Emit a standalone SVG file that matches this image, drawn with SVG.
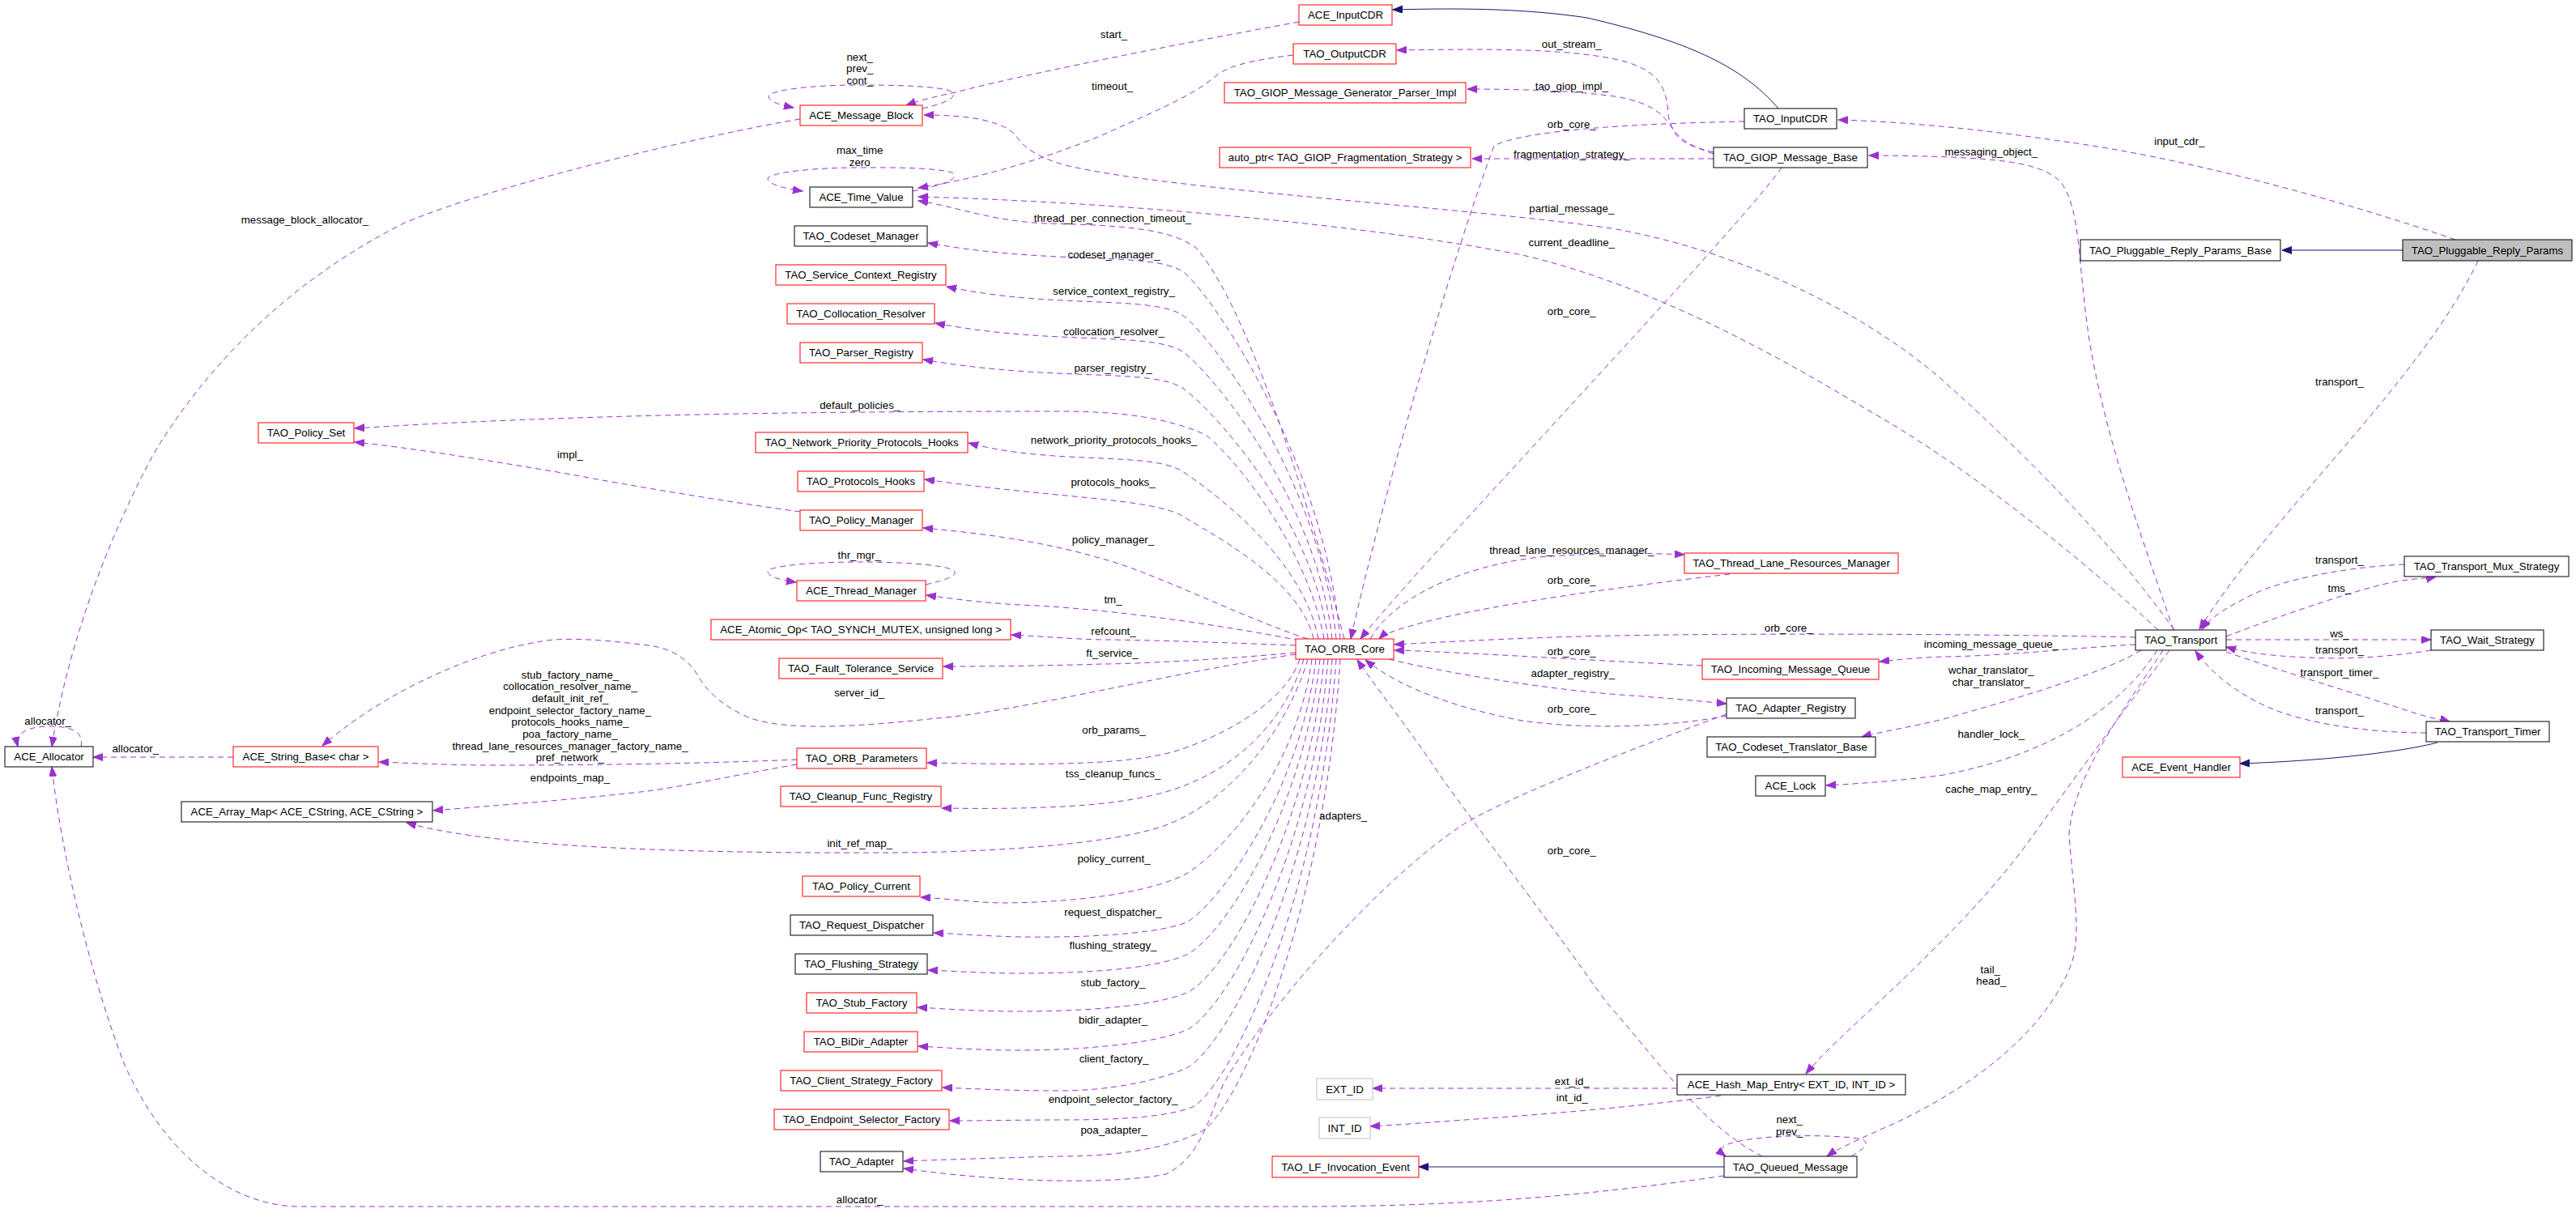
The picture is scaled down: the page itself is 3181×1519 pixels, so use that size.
<svg xmlns="http://www.w3.org/2000/svg" width="3181" height="1519" viewBox="0 0 3181 1519">
<style>
rect{fill:#fff;stroke-width:1}
.r rect{stroke:#ff0000}
.b rect{stroke:#000}
.g rect{stroke:#bfbfbf}
.s rect{fill:#bfbfbf;stroke:#000}
text{font-family:"Liberation Sans",Arial,sans-serif;font-size:13.3px;fill:#000;text-anchor:middle}
.e{fill:none;stroke:#9a32cd;stroke-width:1;stroke-dasharray:7,5;marker-end:url(#ap)}
.i{fill:none;stroke:#191970;stroke-width:1;marker-end:url(#an)}
</style>
<defs>
<marker id="ap" markerUnits="userSpaceOnUse" markerWidth="14" markerHeight="11" refX="12" refY="4.5" orient="auto"><path d="M0,0 L12,4.5 L0,9 z" fill="#9a32cd" stroke="#9a32cd" stroke-dasharray="none"/></marker>
<marker id="an" markerUnits="userSpaceOnUse" markerWidth="14" markerHeight="11" refX="12" refY="4.5" orient="auto"><path d="M0,0 L12,4.5 L0,9 z" fill="#191970" stroke="#191970"/></marker>
</defs>
<rect x="0" y="0" width="3181" height="1519" style="fill:#fff;stroke:none"/>
<g id="edges">
<path class="e" d="M 988,147 C 880,165 620,225 500,275 C 350,350 250,460 190,560 C 120,690 80,820 64,922"/>
<text x="376.5" y="276">message_block_allocator_</text>
<path class="e" d="M 100,922 C 104,905 90,897 62,897 C 35,897 18,905 22,922"/>
<text x="59.2" y="895">allocator_</text>
<path class="e" d="M 288,935 L 115,935"/>
<text x="167.3" y="929">allocator_</text>
<path class="e" d="M 2129,1452 C 1950,1478 1800,1490 1600,1490 L 367,1490 C 280,1488 200,1420 153,1313 C 110,1200 75,1050 64,947"/>
<text x="1061.7" y="1486">allocator_</text>
<path class="e" d="M 1139,134 C 1165,128 1185,120 1175,113 C 1160,106 1100,105 1060,105 C 1010,105 960,110 950,117 C 945,125 965,130 980,133"/>
<text x="1061.7" y="74.5">next_</text>
<text x="1061.7" y="88.5">prev_</text>
<text x="1061.7" y="103.5">cont_</text>
<path class="e" d="M 1604,27 C 1450,55 1250,95 1180,114 C 1150,120 1130,126 1119,130"/>
<text x="1375.5" y="47">start_</text>
<path class="e" d="M 1597,68 C 1540,75 1515,82 1500,95 C 1470,120 1420,140 1361,167 C 1280,200 1200,222 1134,232"/>
<text x="1373.5" y="111">timeout_</text>
<path class="e" d="M 1127,236 C 1160,230 1190,220 1175,213 C 1150,206 1090,207 1060,207 C 1010,207 955,212 948,220 C 948,228 970,233 991,236"/>
<text x="1061.7" y="190">max_time</text>
<text x="1061.7" y="204.5">zero</text>
<path class="e" d="M 1660,789 C 1610,600 1540,380 1478,307 C 1450,285 1400,278 1290,276 C 1220,272 1180,255 1134,248"/>
<text x="1374" y="274">thread_per_connection_timeout_</text>
<path class="e" d="M 2665,778 C 2560,680 2420,570 2304,505 C 2180,430 2030,350 1880,315 C 1700,280 1400,250 1134,243"/>
<text x="1940.8" y="304">current_deadline_</text>
<path class="e" d="M 2685,778 C 2600,660 2500,560 2396,467 C 2300,385 2150,310 1990,282 C 1800,255 1450,235 1320,205 C 1280,195 1262,180 1255,168 C 1240,150 1200,142 1141,142"/>
<text x="1940.8" y="262">partial_message_</text>
<path class="i" d="M 2196,134 C 2150,80 2080,50 1960,22 C 1880,10 1800,10 1720,12"/>
<path class="e" d="M 2116,190 C 2080,178 2062,165 2060,140 C 2058,110 2050,90 2010,77 C 1950,60 1850,60 1725,62"/>
<text x="1940.8" y="59">out_stream_</text>
<path class="e" d="M 2116,188 C 2090,182 2075,175 2069,165 C 2055,140 2040,128 2000,120 C 1950,112 1880,110 1812,110"/>
<text x="1940.8" y="110.5">tao_giop_impl_</text>
<path class="e" d="M 2154,150 C 2000,153 1880,162 1845,180 C 1800,300 1710,600 1668,789"/>
<text x="1940.8" y="158">orb_core_</text>
<path class="e" d="M 2116,196 L 1818,196"/>
<text x="1940.8" y="194.5">fragmentation_strategy_</text>
<path class="e" d="M 3032,296 C 2900,250 2700,195 2550,175 C 2450,160 2350,150 2270,148"/>
<text x="2691.3" y="179">input_cdr_</text>
<path class="e" d="M 2684,778 C 2640,650 2600,540 2580,420 C 2565,320 2570,260 2545,225 C 2520,200 2470,193 2308,192"/>
<text x="2458.8" y="191.5">messaging_object_</text>
<path class="i" d="M 2967,309 L 2818,309"/>
<path class="e" d="M 3060,322 C 2990,470 2800,640 2716,777"/>
<text x="2889" y="476">transport_</text>
<path class="e" d="M 2200,207 C 2150,280 1750,700 1680,789"/>
<text x="1940.8" y="388.5">orb_core_</text>
<path class="e" d="M 1655,789 C 1635,562 1490,355 1460,335 C 1420,310 1300,328 1146,300"/>
<text x="1375.5" y="319">codeset_manager_</text>
<path class="e" d="M 1650,789 C 1630,589 1490,409 1460,389 C 1420,364 1300,382 1169,354"/>
<text x="1375.5" y="364">service_context_registry_</text>
<path class="e" d="M 1645,789 C 1625,611 1490,454 1460,434 C 1420,409 1300,427 1155,399"/>
<text x="1375.5" y="414">collocation_resolver_</text>
<path class="e" d="M 1640,789 C 1620,634 1490,499 1460,479 C 1420,454 1300,472 1140,444"/>
<text x="1374.5" y="458.5">parser_registry_</text>
<path class="e" d="M 1635,789 C 1615,680 1530,570 1489,537 C 1440,515 1380,508 1310,508 C 1000,508 700,512 438,529"/>
<text x="1061.7" y="504.5">default_policies_</text>
<path class="e" d="M 1628,789 C 1608,685 1490,602 1460,582 C 1420,557 1300,575 1196,547"/>
<text x="1375.5" y="548">network_priority_protocols_hooks_</text>
<path class="e" d="M 1622,789 C 1605,713 1490,657 1460,637 C 1420,615 1300,615 1142,592"/>
<text x="1374.5" y="600">protocols_hooks_</text>
<path class="e" d="M 1615,789 C 1540,765 1420,705 1361,690 C 1300,672 1230,660 1140,652"/>
<text x="1374.5" y="671">policy_manager_</text>
<path class="e" d="M 988,632 C 900,620 780,600 700,585 C 600,568 500,552 438,546"/>
<text x="704" y="566">impl_</text>
<path class="e" d="M 1143,722 C 1170,716 1185,710 1177,704 C 1160,696 1100,694 1060,694 C 1010,694 955,698 948,705 C 948,712 962,716 983,719"/>
<text x="1061.2" y="690">thr_mgr_</text>
<path class="e" d="M 1605,791 C 1500,770 1350,750 1259,747 C 1210,744 1180,740 1144,735"/>
<text x="1374.5" y="744.5">tm_</text>
<path class="e" d="M 1600,797 C 1500,793 1400,790 1361,790 C 1320,789 1290,786 1249,784"/>
<text x="1375" y="784">refcount_</text>
<path class="e" d="M 1600,806 C 1500,815 1400,820 1361,820 C 1300,822 1230,823 1165,823"/>
<text x="1373.5" y="811">ft_service_</text>
<path class="e" d="M 1600,808 C 1450,830 1250,880 1157,887 C 1080,895 980,905 927,887 C 890,872 870,850 861,833 C 850,815 830,800 800,797 C 760,792 700,785 663,793 C 590,805 480,850 398,921"/>
<text x="1061.2" y="860">server_id_</text>
<path class="e" d="M 1605,814 C 1590,860 1530,900 1460,925 C 1400,945 1300,945 1145,942"/>
<text x="1375.5" y="906">orb_params_</text>
<path class="e" d="M 984,938 C 900,942 750,945 612,945 C 550,945 500,942 468,941"/>
<text x="704" y="838">stub_factory_name_</text>
<text x="704" y="852">collocation_resolver_name_</text>
<text x="704" y="867">default_init_ref_</text>
<text x="704" y="881.5">endpoint_selector_factory_name_</text>
<text x="704" y="896">protocols_hooks_name_</text>
<text x="704" y="911">poa_factory_name_</text>
<text x="704" y="926">thread_lane_resources_manager_factory_name_</text>
<text x="704" y="940">pref_network_</text>
<path class="e" d="M 984,944 C 920,955 850,970 800,977 C 730,985 650,992 535,1001"/>
<text x="704" y="964.5">endpoints_map_</text>
<path class="e" d="M 1610,814 C 1590,880 1540,940 1463,970 C 1400,995 1300,1000 1163,998"/>
<text x="1374.5" y="960">tss_cleanup_funcs_</text>
<path class="e" d="M 1615,814 C 1590,900 1520,990 1437,1020 C 1380,1040 1250,1052 1106,1053 C 900,1054 620,1050 502,1016"/>
<text x="1061.7" y="1046">init_ref_map_</text>
<path class="e" d="M 1620,814 C 1600,960 1500,1060 1463,1080 C 1420,1102 1330,1115 1234,1115 C 1200,1114 1170,1110 1137,1108"/>
<text x="1375.5" y="1064.5">policy_current_</text>
<path class="e" d="M 1625,814 C 1605,983 1500,1123 1463,1140 C 1420,1155 1330,1158 1259,1157 C 1220,1156 1190,1154 1153,1152"/>
<text x="1374.5" y="1131">request_dispatcher_</text>
<path class="e" d="M 1630,814 C 1610,1000 1510,1160 1463,1180 C 1420,1198 1330,1202 1259,1202 C 1220,1202 1190,1200 1146,1198"/>
<text x="1374.5" y="1172">flushing_strategy_</text>
<path class="e" d="M 1635,814 C 1615,1030 1510,1210 1463,1227 C 1420,1244 1330,1249 1259,1249 C 1210,1249 1170,1246 1133,1244"/>
<text x="1374.5" y="1218">stub_factory_</text>
<path class="e" d="M 1640,814 C 1620,1060 1510,1255 1463,1273 C 1420,1290 1330,1297 1259,1297 C 1210,1297 1170,1294 1134,1292"/>
<text x="1374.5" y="1264">bidir_adapter_</text>
<path class="e" d="M 1645,814 C 1625,1090 1510,1300 1463,1320 C 1420,1338 1360,1347 1310,1347 C 1250,1347 1210,1345 1164,1343"/>
<text x="1375.5" y="1312">client_factory_</text>
<path class="e" d="M 1650,814 C 1630,1110 1520,1340 1473,1367 C 1440,1380 1380,1383 1310,1383 C 1260,1383 1220,1384 1173,1384"/>
<text x="1374.5" y="1362">endpoint_selector_factory_</text>
<path class="e" d="M 1655,814 C 1635,1130 1530,1370 1484,1397 C 1450,1415 1390,1428 1310,1428 C 1230,1430 1170,1432 1116,1434"/>
<text x="1375.5" y="1399.5">poa_adapter_</text>
<path class="e" d="M 1692,789 C 1720,740 1800,700 1900,688 C 1980,682 2040,683 2080,685"/>
<text x="1940.8" y="683.5">thread_lane_resources_manager_</text>
<path class="e" d="M 2136,709 C 2000,725 1850,745 1760,768 C 1730,776 1710,782 1703,789"/>
<text x="1940.8" y="720.5">orb_core_</text>
<path class="e" d="M 2637,787 C 2400,782 2100,782 1950,786 C 1850,789 1780,793 1722,796"/>
<text x="2208.7" y="780">orb_core_</text>
<path class="e" d="M 2102,822 C 1950,815 1800,805 1722,803"/>
<text x="1940.8" y="808.5">orb_core_</text>
<path class="e" d="M 2637,796 C 2560,800 2480,810 2400,811 C 2370,812 2340,815 2321,817"/>
<text x="2459" y="800">incoming_message_queue_</text>
<path class="e" d="M 1715,814 C 1780,830 1900,850 2000,858 C 2060,862 2100,866 2132,869"/>
<text x="1942.3" y="836">adapter_registry_</text>
<path class="e" d="M 2132,884 C 2050,900 1950,900 1880,890 C 1800,875 1730,850 1686,815"/>
<text x="1940.8" y="880">orb_core_</text>
<path class="e" d="M 2132,882 C 2000,930 1850,990 1804,1020 C 1700,1090 1560,1250 1510,1340 C 1490,1390 1480,1430 1440,1450 C 1380,1462 1250,1462 1116,1443"/>
<text x="1658.7" y="1012">adapters_</text>
<path class="e" d="M 2176,1428 C 2100,1390 2040,1300 1983,1237 C 1900,1120 1830,1030 1780,960 C 1740,900 1700,850 1676,815"/>
<text x="1940.8" y="1054.5">orb_core_</text>
<path class="e" d="M 2644,803 C 2600,830 2500,860 2400,888 C 2360,898 2320,904 2299,910"/>
<text x="2458.8" y="832">wchar_translator_</text>
<text x="2458.8" y="847">char_translator_</text>
<path class="e" d="M 2664,803 C 2620,870 2540,930 2400,957 C 2340,965 2290,968 2255,970"/>
<text x="2458.8" y="911">handler_lock_</text>
<path class="e" d="M 2679,803 C 2620,880 2570,950 2519,1020 C 2470,1090 2420,1140 2380,1180 C 2320,1240 2260,1290 2230,1326"/>
<text x="2458.8" y="979">cache_map_entry_</text>
<path class="e" d="M 2671,803 C 2620,880 2560,960 2555,1030 C 2560,1100 2570,1150 2559,1187 C 2530,1270 2440,1340 2340,1387 C 2300,1405 2270,1418 2256,1428"/>
<text x="2457.8" y="1202">tail_</text>
<text x="2458.8" y="1216">head_</text>
<path class="e" d="M 2749,786 C 2830,755 2920,725 2960,718 C 2985,714 3000,714 3008,712"/>
<text x="2889" y="730.5">tms_</text>
<path class="e" d="M 2969,697 C 2900,700 2820,715 2780,735 C 2750,750 2730,762 2719,777"/>
<text x="2889" y="696">transport_</text>
<path class="e" d="M 2749,790 L 3002,790"/>
<text x="2889" y="787">ws_</text>
<path class="e" d="M 3002,803 C 2960,810 2900,815 2850,812 C 2800,810 2770,805 2749,799"/>
<text x="2889" y="807">transport_</text>
<path class="e" d="M 2749,805 C 2820,830 2920,860 2980,880 C 3005,888 3018,889 3025,891"/>
<text x="2889" y="835">transport_timer_</text>
<path class="e" d="M 2996,905 C 2930,905 2850,895 2800,873 C 2760,855 2730,830 2711,804"/>
<text x="2889" y="882">transport_</text>
<path class="i" d="M 3010,917 C 2960,930 2860,940 2766,943"/>
<path class="i" d="M 2129,1441 L 1752,1441"/>
<path class="e" d="M 2071,1344 L 1695,1344"/>
<text x="1941.3" y="1340">ext_id_</text>
<path class="e" d="M 2125,1353 C 2060,1362 1950,1373 1850,1380 C 1780,1385 1730,1389 1692,1391"/>
<text x="1941.3" y="1360">int_id_</text>
<path class="e" d="M 2286,1428 C 2300,1420 2310,1412 2300,1407 C 2280,1403 2240,1402 2210,1403 C 2170,1404 2135,1410 2128,1416 C 2124,1420 2127,1425 2131,1428"/>
<text x="2209.7" y="1387">next_</text>
<text x="2209.7" y="1402">prev_</text>
</g>
<g id="ACE_InputCDR" class="r"><rect x="1604" y="6" width="115" height="25"/><text x="1661.5" y="23">ACE_InputCDR</text></g>
<g id="TAO_OutputCDR" class="r"><rect x="1597" y="54" width="127" height="25"/><text x="1660.5" y="71">TAO_OutputCDR</text></g>
<g id="TAO_GIOP_Message_Generator_Parser_Impl" class="r"><rect x="1512" y="102" width="298" height="25"/><text x="1661" y="119">TAO_GIOP_Message_Generator_Parser_Impl</text></g>
<g id="auto_ptr_Fragmentation" class="r"><rect x="1506" y="182" width="310" height="25"/><text x="1661" y="199">auto_ptr&lt; TAO_GIOP_Fragmentation_Strategy &gt;</text></g>
<g id="TAO_InputCDR" class="b"><rect x="2154" y="134" width="114" height="25"/><text x="2211" y="151">TAO_InputCDR</text></g>
<g id="TAO_GIOP_Message_Base" class="b"><rect x="2116" y="182" width="190" height="25"/><text x="2211" y="199">TAO_GIOP_Message_Base</text></g>
<g id="TAO_Pluggable_Reply_Params_Base" class="b"><rect x="2569" y="296" width="247" height="26"/><text x="2692.5" y="313.5">TAO_Pluggable_Reply_Params_Base</text></g>
<g id="TAO_Pluggable_Reply_Params" class="s"><rect x="2967" y="296" width="209" height="26"/><text x="3071.5" y="313.5">TAO_Pluggable_Reply_Params</text></g>
<g id="ACE_Message_Block" class="r"><rect x="988" y="130" width="151" height="25"/><text x="1063.5" y="147">ACE_Message_Block</text></g>
<g id="ACE_Time_Value" class="b"><rect x="1000" y="231" width="127" height="25"/><text x="1063.5" y="248">ACE_Time_Value</text></g>
<g id="TAO_Codeset_Manager" class="b"><rect x="981" y="279" width="164" height="25"/><text x="1063" y="296">TAO_Codeset_Manager</text></g>
<g id="TAO_Service_Context_Registry" class="r"><rect x="958" y="327" width="210" height="25"/><text x="1063" y="344">TAO_Service_Context_Registry</text></g>
<g id="TAO_Collocation_Resolver" class="r"><rect x="972" y="375" width="182" height="25"/><text x="1063" y="392">TAO_Collocation_Resolver</text></g>
<g id="TAO_Parser_Registry" class="r"><rect x="988" y="423" width="151" height="25"/><text x="1063.5" y="440">TAO_Parser_Registry</text></g>
<g id="TAO_Policy_Set" class="r"><rect x="319" y="522" width="118" height="25"/><text x="378" y="539">TAO_Policy_Set</text></g>
<g id="TAO_Network_Priority_Protocols_Hooks" class="r"><rect x="933" y="534" width="262" height="25"/><text x="1064" y="551">TAO_Network_Priority_Protocols_Hooks</text></g>
<g id="TAO_Protocols_Hooks" class="r"><rect x="985" y="582" width="156" height="25"/><text x="1063" y="599">TAO_Protocols_Hooks</text></g>
<g id="TAO_Policy_Manager" class="r"><rect x="988" y="630" width="151" height="25"/><text x="1063.5" y="647">TAO_Policy_Manager</text></g>
<g id="ACE_Thread_Manager" class="r"><rect x="984" y="717" width="159" height="25"/><text x="1063.5" y="734">ACE_Thread_Manager</text></g>
<g id="ACE_Atomic_Op" class="r"><rect x="878" y="765" width="370" height="25"/><text x="1063" y="782">ACE_Atomic_Op&lt; TAO_SYNCH_MUTEX, unsigned long &gt;</text></g>
<g id="TAO_Fault_Tolerance_Service" class="r"><rect x="962" y="813" width="202" height="25"/><text x="1063" y="830">TAO_Fault_Tolerance_Service</text></g>
<g id="ACE_Allocator" class="b"><rect x="6" y="922" width="109" height="25"/><text x="60.5" y="939">ACE_Allocator</text></g>
<g id="ACE_String_Base_char" class="r"><rect x="288" y="922" width="179" height="25"/><text x="377.5" y="939">ACE_String_Base&lt; char &gt;</text></g>
<g id="TAO_ORB_Parameters" class="r"><rect x="984" y="924" width="160" height="25"/><text x="1064" y="941">TAO_ORB_Parameters</text></g>
<g id="ACE_Array_Map" class="b"><rect x="224" y="990" width="310" height="25"/><text x="379" y="1007">ACE_Array_Map&lt; ACE_CString, ACE_CString &gt;</text></g>
<g id="TAO_Cleanup_Func_Registry" class="r"><rect x="964" y="971" width="198" height="25"/><text x="1063" y="988">TAO_Cleanup_Func_Registry</text></g>
<g id="TAO_Policy_Current" class="r"><rect x="991" y="1082" width="145" height="25"/><text x="1063.5" y="1099">TAO_Policy_Current</text></g>
<g id="TAO_Request_Dispatcher" class="b"><rect x="976" y="1130" width="176" height="25"/><text x="1064" y="1147">TAO_Request_Dispatcher</text></g>
<g id="TAO_Flushing_Strategy" class="b"><rect x="982" y="1178" width="163" height="25"/><text x="1063.5" y="1195">TAO_Flushing_Strategy</text></g>
<g id="TAO_Stub_Factory" class="r"><rect x="996" y="1226" width="136" height="25"/><text x="1064" y="1243">TAO_Stub_Factory</text></g>
<g id="TAO_BiDir_Adapter" class="r"><rect x="993" y="1274" width="140" height="25"/><text x="1063" y="1291">TAO_BiDir_Adapter</text></g>
<g id="TAO_Client_Strategy_Factory" class="r"><rect x="964" y="1322" width="199" height="25"/><text x="1063.5" y="1339">TAO_Client_Strategy_Factory</text></g>
<g id="TAO_Endpoint_Selector_Factory" class="r"><rect x="956" y="1370" width="216" height="25"/><text x="1064" y="1387">TAO_Endpoint_Selector_Factory</text></g>
<g id="TAO_Adapter" class="b"><rect x="1013" y="1422" width="102" height="25"/><text x="1064" y="1439">TAO_Adapter</text></g>
<g id="TAO_ORB_Core" class="r"><rect x="1600" y="789" width="121" height="25"/><text x="1660.5" y="806">TAO_ORB_Core</text></g>
<g id="TAO_Thread_Lane_Resources_Manager" class="r"><rect x="2080" y="683" width="264" height="25"/><text x="2212" y="700">TAO_Thread_Lane_Resources_Manager</text></g>
<g id="TAO_Incoming_Message_Queue" class="r"><rect x="2102" y="814" width="218" height="25"/><text x="2211" y="831">TAO_Incoming_Message_Queue</text></g>
<g id="TAO_Adapter_Registry" class="b"><rect x="2132" y="862" width="159" height="25"/><text x="2211.5" y="879">TAO_Adapter_Registry</text></g>
<g id="TAO_Codeset_Translator_Base" class="b"><rect x="2108" y="910" width="208" height="25"/><text x="2212" y="927">TAO_Codeset_Translator_Base</text></g>
<g id="ACE_Lock" class="b"><rect x="2168" y="958" width="86" height="25"/><text x="2211" y="975">ACE_Lock</text></g>
<g id="TAO_Transport" class="b"><rect x="2637" y="778" width="112" height="25"/><text x="2693" y="795">TAO_Transport</text></g>
<g id="TAO_Transport_Mux_Strategy" class="b"><rect x="2969" y="687" width="203" height="25"/><text x="3070.5" y="704">TAO_Transport_Mux_Strategy</text></g>
<g id="TAO_Wait_Strategy" class="b"><rect x="3002" y="778" width="139" height="25"/><text x="3071.5" y="795">TAO_Wait_Strategy</text></g>
<g id="TAO_Transport_Timer" class="b"><rect x="2996" y="891" width="152" height="25"/><text x="3072" y="908">TAO_Transport_Timer</text></g>
<g id="ACE_Event_Handler" class="r"><rect x="2621" y="935" width="145" height="25"/><text x="2693.5" y="952">ACE_Event_Handler</text></g>
<g id="EXT_ID" class="g"><rect x="1626" y="1332" width="69" height="26"/><text x="1660.5" y="1349.5">EXT_ID</text></g>
<g id="INT_ID" class="g"><rect x="1629" y="1380" width="63" height="26"/><text x="1660.5" y="1397.5">INT_ID</text></g>
<g id="ACE_Hash_Map_Entry" class="b"><rect x="2071" y="1327" width="282" height="25"/><text x="2212" y="1344">ACE_Hash_Map_Entry&lt; EXT_ID, INT_ID &gt;</text></g>
<g id="TAO_LF_Invocation_Event" class="r"><rect x="1571" y="1428" width="181" height="26"/><text x="1661.5" y="1445.5">TAO_LF_Invocation_Event</text></g>
<g id="TAO_Queued_Message" class="b"><rect x="2129" y="1428" width="164" height="26"/><text x="2211" y="1445.5">TAO_Queued_Message</text></g>
</svg>
